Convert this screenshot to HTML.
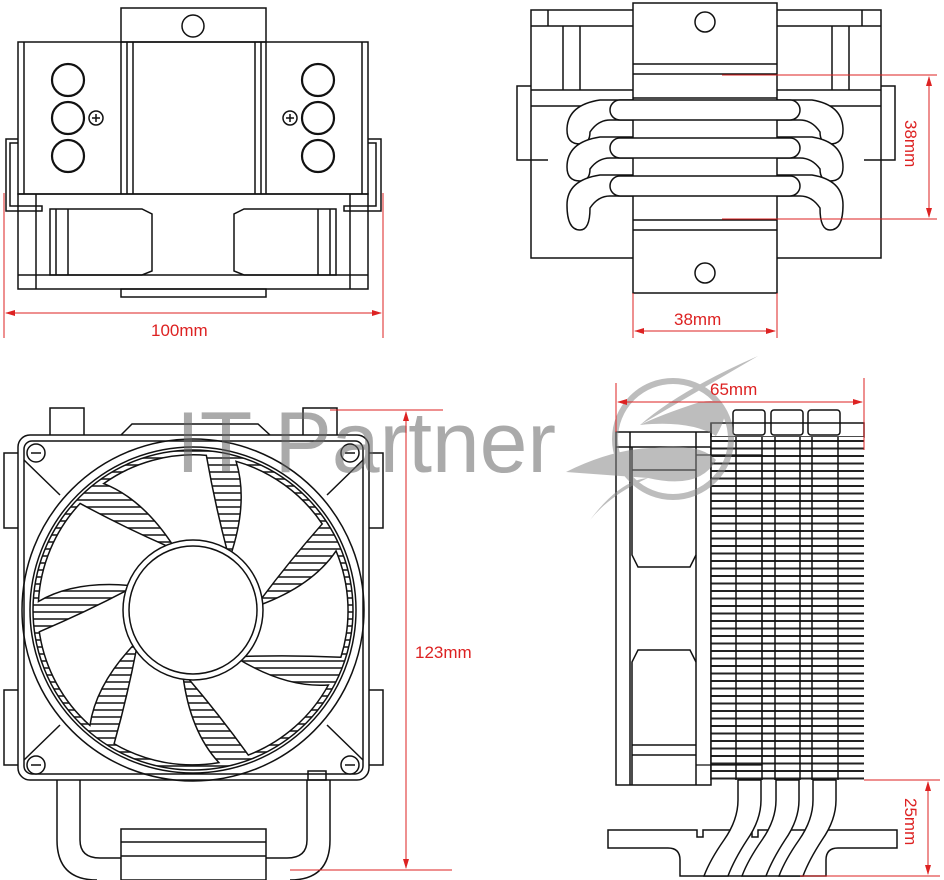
<!DOCTYPE html>
<html><head><meta charset="utf-8"><style>
html,body{margin:0;padding:0;background:#fff}
svg{display:block}
text{font-family:"Liberation Sans",sans-serif}
</style></head><body>
<svg width="944" height="880" viewBox="0 0 944 880" xmlns="http://www.w3.org/2000/svg">
<defs>
<pattern id="hatch" width="8" height="7" patternUnits="userSpaceOnUse">
<rect width="8" height="7" fill="#fff"/><line x1="0" y1="3" x2="8" y2="3" stroke="#222" stroke-width="1.6"/>
</pattern>
<pattern id="fins" width="160" height="7.5" patternUnits="userSpaceOnUse" x="711" y="437">
<rect width="160" height="7.5" fill="#fff"/><line x1="0" y1="4" x2="160" y2="4" stroke="#222" stroke-width="2"/>
</pattern>
<marker id="ar" markerWidth="10" markerHeight="8" refX="9" refY="4" orient="auto" markerUnits="userSpaceOnUse"><path d="M0,1 L10,4 L0,7 Z" fill="#d22"/></marker>
<path id="blade" d="M66,-8 Q118,-30 140,-66 A155,155 0 0 1 150,40 Q100,40 52,44 Z" fill="#fff" stroke="#111" stroke-width="1.5"/>
</defs>
<g fill="none" stroke="#111" stroke-width="1.5">
<!-- TOP LEFT VIEW -->
<rect x="121" y="8" width="145" height="34" fill="#fff"/>
<circle cx="193" cy="26" r="11"/>
<rect x="18" y="42" width="350" height="152"/>
<line x1="24" y1="42" x2="24" y2="194"/><line x1="362" y1="42" x2="362" y2="194"/>
<line x1="121" y1="42" x2="121" y2="194"/><line x1="127" y1="42" x2="127" y2="194"/><line x1="133" y1="42" x2="133" y2="194"/>
<line x1="255" y1="42" x2="255" y2="194"/><line x1="261" y1="42" x2="261" y2="194"/><line x1="266" y1="42" x2="266" y2="194"/>
<g stroke-width="2.2"><circle cx="68" cy="80" r="16"/><circle cx="68" cy="118" r="16"/><circle cx="68" cy="156" r="16"/>
<circle cx="318" cy="80" r="16"/><circle cx="318" cy="118" r="16"/><circle cx="318" cy="156" r="16"/></g>
<circle cx="96" cy="118" r="7"/><path d="M92,118h8M96,114v8"/><circle cx="290" cy="118" r="7"/><path d="M286,118h8M290,114v8"/>
<rect x="18" y="194" width="350" height="95"/>
<line x1="18" y1="275" x2="368" y2="275"/><line x1="36" y1="194" x2="36" y2="289"/><line x1="350" y1="194" x2="350" y2="289"/>
<rect x="121" y="289" width="145" height="8"/>
<path d="M50,209 H142 L152,214 V271 L142,275 H50 Z"/><line x1="56" y1="209" x2="56" y2="275"/><line x1="68" y1="209" x2="68" y2="275"/>
<path d="M336,209 H244 L234,214 V271 L244,275 H336 Z"/><line x1="330" y1="209" x2="330" y2="275"/><line x1="318" y1="209" x2="318" y2="275"/>
<path d="M18,139 H6 V211 H42 V206 H10 V143 H18"/><path d="M368,139 H381 V211 H344 V206 H376 V143 H368"/>
<!-- TOP RIGHT VIEW -->
<rect x="531" y="10" width="350" height="248"/>
<line x1="531" y1="26" x2="881" y2="26"/><line x1="531" y1="90" x2="881" y2="90"/><line x1="531" y1="106" x2="881" y2="106"/>
<line x1="548" y1="10" x2="548" y2="26"/><line x1="563" y1="26" x2="563" y2="90"/><line x1="580" y1="26" x2="580" y2="90"/>
<line x1="849" y1="26" x2="849" y2="90"/><line x1="832" y1="26" x2="832" y2="90"/><line x1="862" y1="10" x2="862" y2="26"/>
<path d="M531,86 H517 V160 H548"/><path d="M881,86 H895 V160 H864"/>
<g fill="#fff">
<path d="M600,100 H812 Q843,105 843,130 Q843,144 830,144 Q820,144 820,132 Q812,120 800,120 H610 Q598,120 590,132 Q590,144 580,144 Q567,144 567,130 Q567,105 600,100 Z"/>
<path d="M600,137 H812 Q843,142 843,167 Q843,181 830,181 Q820,181 820,169 Q812,158 800,158 H610 Q598,158 590,169 Q590,181 580,181 Q567,181 567,167 Q567,142 600,137 Z"/>
<path d="M600,175 H812 Q843,180 843,205 Q843,230 830,230 Q820,230 820,208 Q812,196 800,196 H610 Q598,196 590,208 Q590,230 580,230 Q567,230 567,205 Q567,180 600,175 Z"/>
</g>
<rect x="633" y="3" width="144" height="290" fill="#fff"/>
<circle cx="705" cy="22" r="10"/><circle cx="705" cy="273" r="10"/>
<line x1="633" y1="64" x2="777" y2="64"/><line x1="633" y1="74" x2="777" y2="74"/>
<line x1="633" y1="98" x2="777" y2="98"/>
<line x1="633" y1="220" x2="777" y2="220"/><line x1="633" y1="230" x2="777" y2="230"/>
<g fill="#fff"><rect x="610" y="100" width="190" height="20" rx="10"/><rect x="610" y="138" width="190" height="20" rx="10"/><rect x="610" y="176" width="190" height="20" rx="10"/></g>
<!-- BOTTOM LEFT FAN -->
<rect x="50" y="408" width="34" height="30"/><rect x="303" y="408" width="34" height="30"/>
<path d="M121,435 L132,424 H258 L270,435"/>
<path d="M18,453 H4 V528 H18"/><path d="M18,690 H4 V765 H18"/><path d="M369,453 H383 V528 H369"/><path d="M369,690 H383 V765 H369"/>
<path d="M57,780 V840 Q57,880 97,880"/><path d="M80,780 V840 Q80,858 100,858 H121"/>
<path d="M330,780 V840 Q330,880 290,880"/><path d="M307,780 V840 Q307,858 287,858 H266"/>
<rect x="121" y="829" width="145" height="51"/><line x1="121" y1="842" x2="266" y2="842"/><line x1="121" y1="856" x2="266" y2="856"/>
<rect x="18" y="435" width="351" height="345" rx="12" fill="#fff"/>
<rect x="24" y="441" width="339" height="333" rx="8"/>
<circle cx="193" cy="610" r="160" fill="url(#hatch)"/>
<g transform="translate(193,610)">
<use href="#blade" transform="rotate(-100)"/><use href="#blade" transform="rotate(-48.6)"/><use href="#blade" transform="rotate(2.8)"/>
<use href="#blade" transform="rotate(54.2)"/><use href="#blade" transform="rotate(105.6)"/><use href="#blade" transform="rotate(157)"/><use href="#blade" transform="rotate(208.4)"/>
</g>
<circle cx="193" cy="610" r="171"/><circle cx="193" cy="610" r="163"/>
<circle cx="193" cy="610" r="70" fill="#fff"/><circle cx="193" cy="610" r="64"/>
<g fill="#fff"><circle cx="36" cy="453" r="9"/><circle cx="350" cy="453" r="9"/><circle cx="36" cy="765" r="9"/><circle cx="350" cy="765" r="9"/></g>
<path d="M31,453h10M345,453h10M31,765h10M345,765h10"/>
<line x1="24" y1="460" x2="60" y2="495"/><line x1="363" y1="460" x2="327" y2="495"/><line x1="24" y1="760" x2="60" y2="725"/><line x1="363" y1="760" x2="327" y2="725"/>
<rect x="308" y="771" width="18" height="9"/>
<!-- BOTTOM RIGHT SIDE -->
<rect x="616" y="432" width="95" height="353"/>
<line x1="616" y1="447" x2="711" y2="447"/><line x1="630" y1="432" x2="630" y2="785"/><line x1="696" y1="432" x2="696" y2="785"/>
<path d="M632,447 V555 L638,567 H690 L696,555"/><line x1="632" y1="470" x2="696" y2="470"/>
<path d="M632,785 V662 L638,650 H690 L696,662"/><line x1="632" y1="745" x2="696" y2="745"/><line x1="632" y1="755" x2="696" y2="755"/>
<rect x="733" y="410" width="32" height="25" rx="3"/><rect x="771" y="410" width="32" height="25" rx="3"/><rect x="808" y="410" width="32" height="25" rx="3"/>
<rect x="711" y="423" width="153" height="14"/>
<rect x="711" y="437" width="153" height="343" fill="url(#fins)" stroke="none"/>
<line x1="711" y1="423" x2="711" y2="780"/>
<line x1="736" y1="437" x2="736" y2="780"/><line x1="762" y1="437" x2="762" y2="780"/><line x1="775" y1="437" x2="775" y2="780"/>
<line x1="800" y1="437" x2="800" y2="780"/><line x1="812" y1="437" x2="812" y2="780"/><line x1="838" y1="437" x2="838" y2="780"/>
<path d="M696,455 H762 V765 H696" stroke-width="1.2"/>
<path d="M608,830 H697 V837 H703 V830 H752 V837 H758 V830 H897 V848 H838 Q826,848 826,860 V876 H680 V860 Q680,848 668,848 H608 Z" fill="#fff"/>
<g fill="#fff">
<path d="M738,780 V800 Q738,820 724,840 Q710,860 704,876 H728 Q734,860 747,840 Q761,820 761,800 V780 Z"/>
<path d="M776,780 V800 Q776,820 762,840 Q748,860 742,876 H766 Q772,860 785,840 Q799,820 799,800 V780 Z"/>
<path d="M813,780 V800 Q813,820 799,840 Q785,860 779,876 H803 Q809,860 822,840 Q836,820 836,800 V780 Z"/>
</g>
</g>
<!-- watermark -->
<g opacity="0.55">
<text x="176" y="472" font-size="86" fill="#666" textLength="380" lengthAdjust="spacing">IT Partner</text>
<circle cx="673" cy="439" r="58" fill="none" stroke="#888" stroke-width="6"/>
<path d="M758,356 Q680,390 640,425 Q690,420 716,436 Q740,395 700,402 Q660,415 640,425 Z" fill="#888"/>
<path d="M566,472 Q610,450 650,448 Q700,442 716,460 Q700,490 648,478 Q610,495 590,520 Q620,480 648,478 Z" fill="#888"/>
</g>
<!-- dimensions -->
<g stroke="#d22" stroke-width="1" fill="none">
<line x1="4" y1="193" x2="4" y2="338"/><line x1="383" y1="193" x2="383" y2="338"/>
<line x1="6" y1="313" x2="381" y2="313" marker-end="url(#ar)"/><line x1="381" y1="313" x2="6" y2="313" marker-end="url(#ar)"/>
<line x1="722" y1="75" x2="937" y2="75"/><line x1="722" y1="219" x2="937" y2="219"/>
<line x1="929" y1="77" x2="929" y2="217" marker-end="url(#ar)"/><line x1="929" y1="217" x2="929" y2="77" marker-end="url(#ar)"/>
<line x1="633" y1="293" x2="633" y2="338"/><line x1="777" y1="293" x2="777" y2="338"/>
<line x1="635" y1="331" x2="775" y2="331" marker-end="url(#ar)"/><line x1="775" y1="331" x2="635" y2="331" marker-end="url(#ar)"/>
<line x1="330" y1="410" x2="443" y2="410"/><line x1="290" y1="870" x2="452" y2="870"/>
<line x1="406" y1="412" x2="406" y2="868" marker-end="url(#ar)"/><line x1="406" y1="868" x2="406" y2="412" marker-end="url(#ar)"/>
<line x1="616" y1="383" x2="616" y2="432"/><line x1="864" y1="378" x2="864" y2="450"/>
<line x1="618" y1="402" x2="862" y2="402" marker-end="url(#ar)"/><line x1="862" y1="402" x2="618" y2="402" marker-end="url(#ar)"/>
<line x1="864" y1="780" x2="940" y2="780"/><line x1="800" y1="876" x2="940" y2="876"/>
<line x1="928" y1="782" x2="928" y2="874" marker-end="url(#ar)"/><line x1="928" y1="874" x2="928" y2="782" marker-end="url(#ar)"/>
</g>
<g fill="#d22" font-size="17">
<text x="151" y="336">100mm</text>
<text x="674" y="325">38mm</text>
<text x="415" y="658">123mm</text>
<text x="710" y="395">65mm</text>
<text transform="translate(905,120) rotate(90)">38mm</text>
<text transform="translate(905,798) rotate(90)">25mm</text>
</g>
</svg>
</body></html>
